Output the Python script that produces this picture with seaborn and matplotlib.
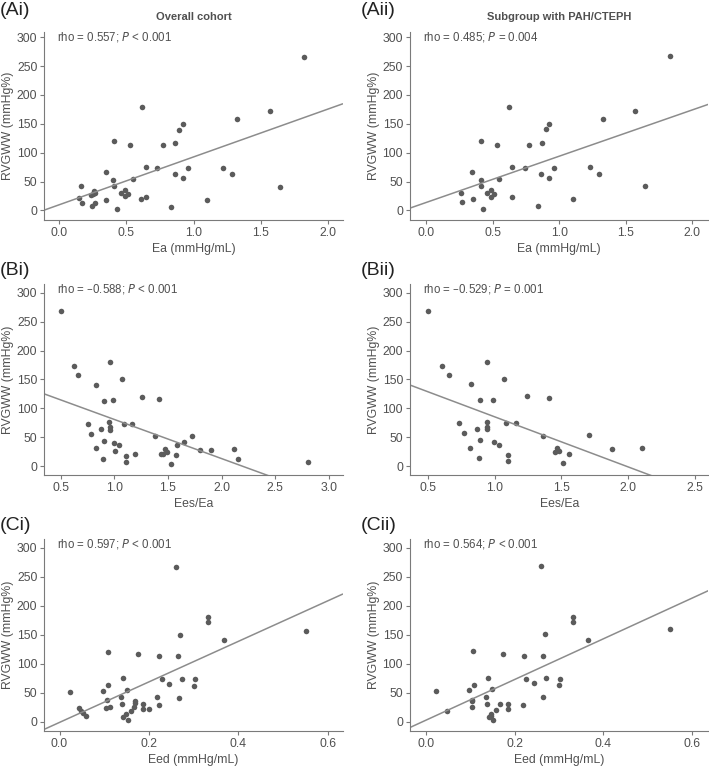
import matplotlib
matplotlib.use("Agg")
import matplotlib.pyplot as plt
from matplotlib.ticker import FormatStrFormatter
import seaborn as sns
import pandas as pd

# ---------------- data ----------------
ea_all = [0.15, 0.16, 0.17, 0.24, 0.255, 0.26, 0.265, 0.245, 0.27, 0.35, 0.35, 0.40, 0.41, 0.41,
          0.43, 0.46, 0.49, 0.49, 0.51, 0.53, 0.55, 0.61, 0.65, 0.65, 0.62, 0.73, 0.77, 0.83,
          0.86, 0.86, 0.89, 0.92, 0.92, 0.96, 1.10, 1.22, 1.29, 1.32, 1.57, 1.64, 1.82]
rvgww_ea_all = [22, 42, 13, 27, 29, 34, 31, 8, 13, 66, 18, 52, 120, 43, 3, 31, 36, 25, 28, 113,
                54, 20, 23, 76, 180, 73, 114, 6, 64, 117, 140, 150, 56, 73, 18, 73, 63, 158,
                172, 41, 266]

ea_sub = [0.26, 0.27, 0.345, 0.35, 0.41, 0.41, 0.41, 0.43, 0.46, 0.49, 0.49, 0.51, 0.53, 0.55,
          0.62, 0.645, 0.645, 0.74, 0.77, 0.84, 0.86, 0.87, 0.90, 0.92, 0.925, 0.96, 1.10,
          1.23, 1.30, 1.33, 1.57, 1.645, 1.83]
rvgww_ea_sub = [31, 14, 67, 19, 52, 43, 120, 3, 31, 36, 24, 28, 114, 54, 180, 76, 23, 73, 113,
                8, 64, 116, 141, 150, 56, 74, 20, 75, 64, 158, 172, 42, 267]

eesea_all = [0.50, 0.62, 0.665, 0.83, 0.75, 0.78, 0.83, 0.88, 0.90, 0.905, 0.895, 0.95, 0.956,
             0.956, 0.956, 0.99, 1.00, 1.01, 1.04, 1.07, 1.09, 1.11, 1.11, 1.165, 1.19, 1.26,
             1.375, 1.42, 1.44, 1.455, 1.47, 1.49, 1.53, 1.575, 1.585, 1.65, 1.72, 1.80, 1.90,
             2.12, 2.15, 2.81]
rvgww_eesea_all = [268, 173, 158, 141, 73, 55, 31, 64, 113, 43, 13, 76, 68, 63, 180, 114, 41,
                   27, 36, 150, 73, 18, 7, 73, 21, 120, 53, 117, 22, 22, 30, 24, 4, 20, 36, 42,
                   53, 28, 28, 30, 13, 8]

eesea_sub = [0.50, 0.61, 0.66, 0.82, 0.735, 0.77, 0.815, 0.865, 0.89, 0.89, 0.88, 0.94, 0.945,
             0.945, 0.94, 0.99, 0.995, 1.03, 1.07, 1.085, 1.10, 1.10, 1.16, 1.245, 1.36, 1.41,
             1.45, 1.465, 1.48, 1.515, 1.56, 1.705, 1.88, 2.105]
rvgww_eesea_sub = [268, 173, 158, 142, 74, 57, 32, 65, 114, 45, 14, 77, 68, 65, 181, 114, 42,
                   37, 151, 75, 20, 9, 75, 121, 53, 118, 24, 31, 26, 5, 21, 54, 29, 31]

eed_all = [0.024, 0.043, 0.048, 0.053, 0.059, 0.098, 0.106, 0.105, 0.112, 0.108, 0.109, 0.142,
           0.137, 0.14, 0.142, 0.149, 0.152, 0.15, 0.16, 0.166, 0.168, 0.168, 0.176, 0.187,
           0.187, 0.20, 0.219, 0.222, 0.222, 0.228, 0.245, 0.261, 0.265, 0.266, 0.27, 0.273,
           0.30, 0.302, 0.332, 0.332, 0.368, 0.55]
rvgww_eed_all = [52, 23, 19, 15, 9, 53, 37, 24, 26, 120, 64, 75, 42, 31, 8, 13, 3, 55, 19, 26,
                 35, 32, 117, 31, 22, 21, 42, 114, 28, 73, 65, 267, 113, 41, 150, 74, 62, 73,
                 180, 172, 140, 157]

eed_sub = [0.023, 0.049, 0.097, 0.105, 0.105, 0.104, 0.106, 0.108, 0.14, 0.136, 0.138, 0.143,
           0.147, 0.147, 0.152, 0.15, 0.159, 0.167, 0.175, 0.186, 0.186, 0.22, 0.221, 0.226,
           0.243, 0.26, 0.264, 0.265, 0.269, 0.271, 0.30, 0.302, 0.331, 0.331, 0.366, 0.55]
rvgww_eed_sub = [53, 18, 54, 37, 35, 25, 121, 64, 76, 43, 31, 8, 13, 10, 3, 57, 20, 31, 117, 31,
                 22, 28, 114, 74, 67, 268, 114, 42, 151, 75, 64, 74, 181, 172, 141, 159]

panel_labels = ["(Ai)", "(Aii)", "(Bi)", "(Bii)", "(Ci)", "(Cii)"]
column_titles = ["Overall cohort", "Subgroup with PAH/CTEPH"]
x_labels = ["Ea (mmHg/mL)", "Ees/Ea", "Eed (mmHg/mL)"]
y_label = "RVGWW (mmHg%)"
stat_rho = ["0.557", "0.485", "\u20130.588", "\u20130.529", "0.597", "0.564"]
stat_p = ["< 0.001", "= 0.004", "< 0.001", "= 0.001", "< 0.001", "< 0.001"]
y_ticks = [0, 50, 100, 150, 200, 250, 300]
x_ticks = [[0.0, 0.5, 1.0, 1.5, 2.0], [0.0, 0.5, 1.0, 1.5, 2.0],
           [0.5, 1.0, 1.5, 2.0, 2.5, 3.0], [0.5, 1.0, 1.5, 2.0, 2.5],
           [0.0, 0.2, 0.4, 0.6], [0.0, 0.2, 0.4, 0.6]]

panels = [(ea_all, rvgww_ea_all), (ea_sub, rvgww_ea_sub),
          (eesea_all, rvgww_eesea_all), (eesea_sub, rvgww_eesea_sub),
          (eed_all, rvgww_eed_all), (eed_sub, rvgww_eed_sub)]

# ---------------- style ----------------
sns.set_theme(style="ticks")
plt.rcParams["font.family"] = ["Liberation Sans", "DejaVu Sans"]

TEXT = "#505050"
POINT = "#5b5b5b"
LINE = "#8c8c8c"
SPINE = "#7a7a7a"

xlims = [(-0.11, 2.11), (-0.12, 2.12), (0.347, 3.13), (0.367, 2.6),
         (-0.034, 0.633), (-0.035, 0.636)]
ylims = [(-16.5, 309), (-16.5, 309), (-15.6, 315), (-15.6, 315), (-15.6, 315), (-15.6, 315)]

W, H = 709, 768
fig = plt.figure(figsize=(W / 100, H / 100), dpi=100)

col_left = [44.3 / W, 410 / W]
col_w = 298.4 / W
row_bottom = [1 - 220 / H, 1 - 475.3 / H, 1 - 730.7 / H]
row_h = [188 / H, 191.3 / H, 191.7 / H]
label_top = [1 - 2 / H, 1 - 262 / H, 1 - 517 / H]
label_x = [0 / W, 361 / W]

for i, (xv, yv) in enumerate(panels):
    r, c = divmod(i, 2)
    ax = fig.add_axes([col_left[c], row_bottom[r], col_w, row_h[r]])
    ax.set_xlim(*xlims[i])
    ax.set_ylim(*ylims[i])
    df = pd.DataFrame({"x": xv, "y": yv})
    sns.regplot(data=df, x="x", y="y", ax=ax, ci=None, truncate=False,
                scatter_kws=dict(s=16, color=POINT, linewidths=0, alpha=1),
                line_kws=dict(color=LINE, lw=1.1))
    ax.set_xlim(*xlims[i])
    ax.set_ylim(*ylims[i])
    ax.set_xticks(x_ticks[i])
    ax.set_yticks(y_ticks)
    ax.xaxis.set_major_formatter(FormatStrFormatter("%.1f"))
    for s in ["top", "right"]:
        ax.spines[s].set_visible(False)
    for s in ["left", "bottom"]:
        ax.spines[s].set_color(SPINE)
        ax.spines[s].set_linewidth(0.8)
    ax.tick_params(axis="both", colors=SPINE, labelcolor=TEXT, labelsize=8.8,
                   length=3, width=0.8, pad=2)
    ax.set_xlabel(x_labels[r], color=TEXT, fontsize=8.8, labelpad=3)
    ax.set_ylabel(y_label, color=TEXT, fontsize=8.8, labelpad=2)
    ax.text(0.043, 0.975, f"rho = {stat_rho[i]}; $\\it{{P}}$ {stat_p[i]}",
            transform=ax.transAxes, ha="left", va="center", fontsize=8.3, color=TEXT)
    if r == 0:
        ax.set_title(column_titles[c], fontsize=8, fontweight="bold", color=TEXT, pad=9)
    fig.text(label_x[c], label_top[r], panel_labels[i], ha="left", va="top",
             fontsize=14, color="#222222")

fig.savefig("out.png", dpi=100)
